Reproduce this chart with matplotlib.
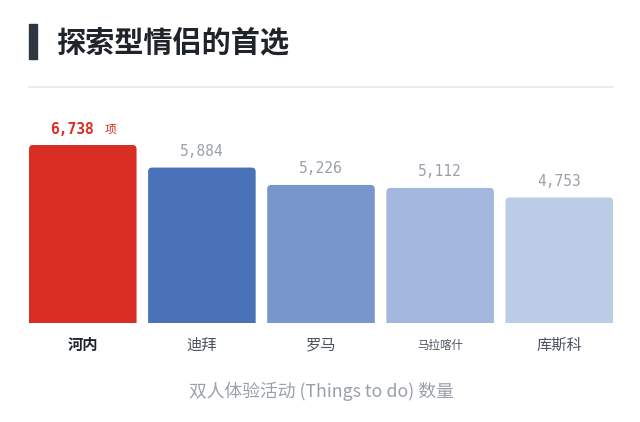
import matplotlib.pyplot as plt
from matplotlib.patches import FancyBboxPatch, Rectangle

cities = ["河内", "迪拜", "罗马", "马拉喀什", "库斯科"]
counts = [6738, 5884, 5226, 5112, 4753]
colors = ["#DA2E24", "#4A72B8", "#7896CB", "#A4B7DC", "#BBCCE6"]

title = "探索型情侣的首选"
xlabel = "双人体验活动 (Things to do) 数量"

cjk = ["Noto Sans CJK SC", "DejaVu Sans"]
mono = ["DejaVu Sans Mono", "Noto Sans CJK SC"]
plt.rcParams["font.family"] = cjk

W, H = 640, 422
fig = plt.figure(figsize=(W / 100, H / 100), dpi=100)

# header: dark marker, title, divider
fig.patches.append(Rectangle((29 / W, 1 - 59 / H), 8 / W, 35 / H,
                             transform=fig.transFigure, color="#2F3640"))
fig.text(56 / W, 1 - 42 / H, title, fontsize=21, fontweight="bold",
         color="#1F242B", va="center", ha="left")
fig.add_artist(plt.Line2D([29 / W, 613 / W], [1 - 87 / H, 1 - 87 / H],
                          color="#E5E7EB", lw=1.2, transform=fig.transFigure))

# axes area in pixels: x 29..613, baseline y=323, top y=100
px_per_unit = 178 / counts[0]
top_px = 100
ymax = (323 - top_px) / px_per_unit
ax = fig.add_axes([29 / W, (H - 323) / H, 584 / W, (323 - top_px) / H])
w = 0.903
ax.set_xlim(-w / 2, len(cities) - 1 + w / 2)
ax.set_ylim(0, ymax)
ax.axis("off")

# rounded top corners; bottom corners pushed below the baseline and clipped
x_unit_px = 584 / (len(cities) - 1 + w)
r = 4 / x_unit_px
aspect = x_unit_px / px_per_unit
below = 10 / px_per_unit
for i, (v, c) in enumerate(zip(counts, colors)):
    x0 = i - w / 2
    ax.add_patch(FancyBboxPatch((x0, -below), w, v + below,
                                boxstyle=f"round,pad=0,rounding_size={r}",
                                mutation_aspect=aspect, fc=c, ec="none"))
    lab_y = v + 16 / px_per_unit
    if i == 0:
        ax.text(i - 0.09, lab_y, f"{v:,}", ha="center", va="center",
                fontsize=10.5, fontweight="bold", color="#DA2E24", family=mono)
        ax.text(i + 0.23, lab_y, "项", ha="center", va="center",
                fontsize=8.5, color="#DA2E24")
        ax.text(i, -22 / px_per_unit, cities[i], ha="center", va="center",
                fontsize=11, fontweight="bold", color="#1F242B")
    else:
        ax.text(i, lab_y, f"{v:,}", ha="center", va="center",
                fontsize=10.5, color="#9AA0AB", family=mono)
        fs = 8.3 if len(cities[i]) > 3 else 11
        ax.text(i, -22 / px_per_unit, cities[i], ha="center", va="center",
                fontsize=fs, color="#4B5260")

fig.text(321 / W, 1 - 391 / H, xlabel, fontsize=12.8, color="#9AA0AB",
         ha="center", va="center")

fig.savefig("out.png", dpi=100, facecolor="white")
